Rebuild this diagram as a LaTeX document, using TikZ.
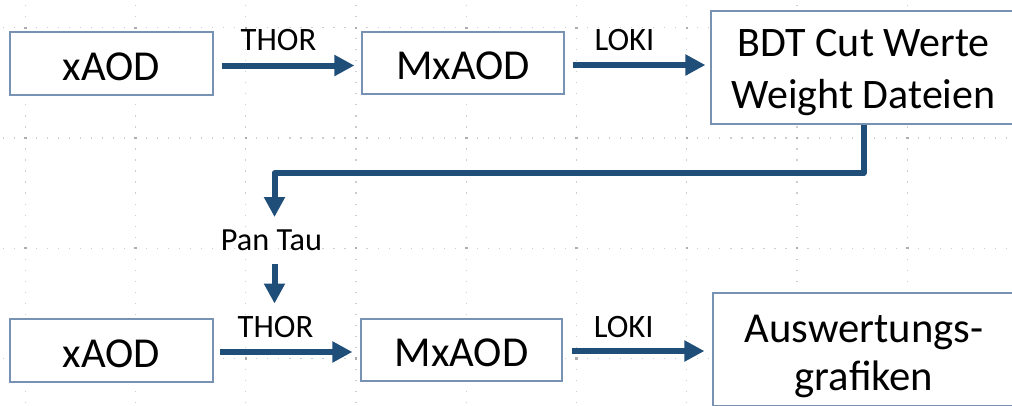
\documentclass[tikz,border=0pt]{standalone}
\usepackage{fontspec}
\setmainfont{Carlito}
\usetikzlibrary{arrows.meta}
\definecolor{arrc}{RGB}{31,78,121}
\definecolor{boxc}{RGB}{120,146,180}
\definecolor{gridc}{RGB}{205,205,205}
\newcommand\bxt[2]{\raisebox{#1}[0pt][0pt]{#2}}
\begin{document}
\begin{tikzpicture}[x=0.75pt,y=-0.75pt,
  box/.style={draw=boxc, line width=0.9pt, fill=white, inner sep=0pt, font=\fontsize{32}{38}\selectfont},
  flow/.style={draw=arrc, line width=4.5pt, line join=round, -{Triangle[length=15pt,width=15pt]}},
  lbl/.style={inner sep=0pt, anchor=base, font=\fontsize{24.5}{30}\selectfont},
  gdot/.style={fill=gridc}]
\useasboundingbox (0,0) rectangle (1012,405);
\begin{scope}
\clip (0,0) rectangle (1012,405);
\fill[white] (0,0) rectangle (1012,405);
% grid
\foreach \i in {0,...,8}{
  \foreach \k in {-3,...,35}{
    \fill[gdot] ({25.3+110.25*\i-0.6},{27.7+11.025*\k-0.6}) rectangle ++(1.2,1.2);
  }
}
\foreach \j in {0,...,3}{
  \foreach \k in {-3,...,90}{
    \fill[gdot] ({25.3+11.025*\k-0.6},{27.7+110.25*\j-0.6}) rectangle ++(1.2,1.2);
  }
}
\foreach \i in {0,...,8}{
  \foreach \j in {0,...,3}{
    \fill[gridc!85!black] ({25.3+110.25*\i-1.2},{27.7+110.25*\j-1.2}) rectangle ++(2.4,2.4);
  }
}
% boxes
\node[box, minimum width=152.25pt, minimum height=47.25pt] (x1) at (111.5,63.5) {\bxt{-12.4pt}{xAOD}};
\node[box, minimum width=151.5pt, minimum height=46.5pt] (m1) at (463,63) {\bxt{-12.4pt}{MxAOD}};
\node[box, minimum width=228.75pt, minimum height=84.75pt, font=\fontsize{31.5}{39}\selectfont] (b1) at (863.5,67.5)
  {\bxt{-31.1pt}{\begin{tabular}[b]{@{}c@{}}BDT Cut Werte\\Weight Dateien\end{tabular}}};
\node[box, minimum width=152.25pt, minimum height=47.25pt] (x2) at (111.5,350.5) {\bxt{-12.4pt}{xAOD}};
\node[box, minimum width=150.75pt, minimum height=46.5pt] (m2) at (461.5,350) {\bxt{-12.4pt}{MxAOD}};
\node[box, minimum width=226.5pt, minimum height=84.75pt, font=\fontsize{32}{36}\selectfont] (a2) at (864,349.5)
  {\bxt{-30.4pt}{\begin{tabular}[b]{@{}c@{}}Auswertungs-\\grafiken\end{tabular}}};
% labels
\node[lbl] (thor1) at (278.5,50) {THOR};
\node[lbl] (loki1) at (624.5,50) {LOKI};
\node[lbl] (thor2) at (275.5,337) {THOR};
\node[lbl] (loki2) at (623.7,337) {LOKI};
\node[lbl, font=\fontsize{24.2}{28}\selectfont] (pantau) at (271.5,250) {Pan Tau};
\coordinate (turn) at (274.5,173);
% connectors
\draw[flow, shorten <=6pt, shorten >=5.25pt] ([yshift=-1.5pt]x1.east) -- ([yshift=-1.5pt]x1.east -| m1.west);
\draw[flow, shorten <=6pt, shorten >=3.75pt] ([yshift=-1.5pt]m1.east) -- ([yshift=-1.5pt]m1.east -| b1.west);
\draw[flow, shorten <=4.5pt, shorten >=6pt] ([yshift=-1.1pt]x2.east) -- ([yshift=-1.1pt]x2.east -| m2.west);
\draw[flow, shorten <=6.75pt, shorten >=6pt] ([yshift=-0.75pt]m2.east) -- ([yshift=-0.75pt]m2.east -| a2.west);
\draw[flow, shorten >=9pt] (b1.south) |- (turn) -- (turn |- pantau.north);
\draw[flow, shorten <=9.75pt, shorten >=9pt] (turn |- pantau.south) -- (turn |- thor2.north);
\end{scope}
\end{tikzpicture}
\end{document}
